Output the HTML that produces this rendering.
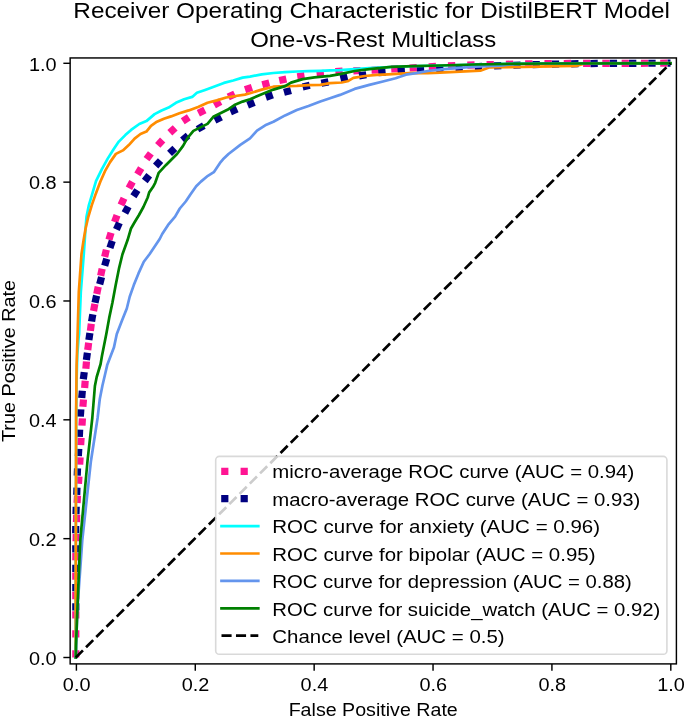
<!DOCTYPE html>
<html lang="en"><head><meta charset="utf-8"><title>ROC curve - DistilBERT One-vs-Rest multiclass</title>
<style>
html,body{margin:0;padding:0;background:#fff;}
body{width:685px;height:717px;overflow:hidden;font-family:"Liberation Sans",sans-serif;}
svg{display:block;}
svg text{font-family:"Liberation Sans",sans-serif;fill:#000;}
.tk{stroke:#000;stroke-width:1.44;}
.cv{fill:none;stroke-width:2.7;stroke-linejoin:round;stroke-linecap:square;}
</style></head><body>
<svg width="685" height="717" viewBox="0 0 685 717" style="will-change:transform;filter:blur(0.45px)">
<rect x="0" y="0" width="685" height="717" fill="#fff"/>
<text x="371.60" y="18.10" font-size="22.28" text-anchor="middle" textLength="596.57" lengthAdjust="spacingAndGlyphs">Receiver Operating Characteristic for DistilBERT Model</text>
<text x="373.20" y="47.30" font-size="22.28" text-anchor="middle" textLength="246.06" lengthAdjust="spacingAndGlyphs">One-vs-Rest Multiclass</text>
<text x="373.20" y="715.80" font-size="18.56" text-anchor="middle" textLength="169.15" lengthAdjust="spacingAndGlyphs">False Positive Rate</text>
<g transform="translate(14.9 361.00) rotate(-90)"><text x="0.00" y="0.00" font-size="18.56" text-anchor="middle" textLength="162.12" lengthAdjust="spacingAndGlyphs">True Positive Rate</text></g>
<defs><clipPath id="ax"><rect x="70.15" y="57.95" width="606.25" height="605.95"/></clipPath></defs>
<g clip-path="url(#ax)">
<defs><clipPath id="dl"><rect x="70.15" y="57.95" width="600.35" height="605.95"/></clipPath></defs>
<g clip-path="url(#dl)">
<g stroke="#ff1493" stroke-width="7.2" fill="none">
<line x1="75.80" y1="657.54" x2="75.80" y2="650.26"/>
<line x1="75.80" y1="637.44" x2="75.80" y2="630.16"/>
<line x1="75.80" y1="618.54" x2="75.80" y2="611.26"/>
<line x1="75.80" y1="599.14" x2="75.80" y2="591.86"/>
<line x1="75.80" y1="579.84" x2="75.80" y2="572.56"/>
<line x1="75.81" y1="560.34" x2="75.89" y2="553.06"/>
<line x1="76.08" y1="541.24" x2="76.23" y2="533.96"/>
<line x1="76.48" y1="522.04" x2="76.70" y2="514.76"/>
<line x1="77.09" y1="502.93" x2="77.49" y2="495.67"/>
<line x1="78.44" y1="483.73" x2="78.94" y2="476.47"/>
<line x1="79.69" y1="464.63" x2="80.11" y2="457.37"/>
<line x1="80.66" y1="445.13" x2="81.09" y2="437.87"/>
<line x1="81.98" y1="425.63" x2="82.42" y2="418.37"/>
<line x1="82.91" y1="406.83" x2="83.46" y2="399.57"/>
<line x1="84.64" y1="388.03" x2="85.21" y2="380.77"/>
<line x1="85.86" y1="368.73" x2="86.48" y2="361.47"/>
<line x1="87.73" y1="350.01" x2="88.67" y2="342.79"/>
<line x1="90.36" y1="330.91" x2="91.30" y2="323.69"/>
<line x1="93.53" y1="310.98" x2="94.89" y2="303.82"/>
<line x1="96.77" y1="293.97" x2="98.23" y2="286.83"/>
<line x1="100.65" y1="275.76" x2="102.15" y2="268.64"/>
<line x1="104.64" y1="256.84" x2="106.36" y2="249.76"/>
<line x1="108.95" y1="239.69" x2="111.05" y2="232.71"/>
<line x1="114.56" y1="222.02" x2="117.04" y2="215.18"/>
<line x1="120.98" y1="204.91" x2="124.02" y2="198.29"/>
<line x1="128.94" y1="188.19" x2="132.46" y2="181.81"/>
<line x1="137.42" y1="174.42" x2="141.18" y2="168.18"/>
<line x1="146.54" y1="159.13" x2="150.86" y2="153.27"/>
<line x1="157.74" y1="145.38" x2="162.66" y2="140.02"/>
<line x1="169.82" y1="132.76" x2="175.18" y2="127.84"/>
<line x1="182.74" y1="121.17" x2="188.86" y2="117.23"/>
<line x1="198.34" y1="113.23" x2="204.86" y2="109.97"/>
<line x1="214.20" y1="105.13" x2="220.60" y2="101.67"/>
<line x1="228.22" y1="97.07" x2="234.78" y2="93.93"/>
<line x1="245.05" y1="89.76" x2="251.95" y2="87.44"/>
<line x1="262.28" y1="84.73" x2="269.32" y2="82.87"/>
<line x1="279.24" y1="80.47" x2="286.36" y2="78.93"/>
<line x1="297.30" y1="76.75" x2="304.50" y2="75.65"/>
<line x1="316.68" y1="74.22" x2="323.92" y2="73.38"/>
<line x1="335.37" y1="71.61" x2="342.63" y2="70.99"/>
<line x1="353.36" y1="70.84" x2="360.64" y2="70.50"/>
<line x1="371.56" y1="70.27" x2="378.84" y2="69.92"/>
<line x1="391.17" y1="69.03" x2="398.43" y2="68.59"/>
<line x1="409.57" y1="68.01" x2="416.83" y2="67.59"/>
<line x1="428.73" y1="66.78" x2="436.01" y2="66.40"/>
<line x1="448.02" y1="65.93" x2="455.30" y2="65.62"/>
<line x1="467.31" y1="65.09" x2="474.59" y2="64.87"/>
<line x1="486.60" y1="64.67" x2="493.88" y2="64.52"/>
<line x1="505.89" y1="64.28" x2="513.17" y2="64.14"/>
<line x1="525.18" y1="63.94" x2="532.46" y2="63.84"/>
<line x1="544.47" y1="63.69" x2="551.75" y2="63.60"/>
<line x1="563.76" y1="63.49" x2="571.04" y2="63.47"/>
<line x1="583.05" y1="63.44" x2="590.33" y2="63.42"/>
<line x1="602.34" y1="63.39" x2="609.62" y2="63.37"/>
<line x1="621.63" y1="63.33" x2="628.91" y2="63.31"/>
<line x1="640.92" y1="63.28" x2="648.20" y2="63.26"/>
<line x1="660.21" y1="63.23" x2="667.49" y2="63.21"/>
</g>
<g stroke="#000080" stroke-width="7.2" fill="none">
<line x1="75.80" y1="610.54" x2="75.80" y2="603.26"/>
<line x1="75.80" y1="591.24" x2="75.80" y2="583.96"/>
<line x1="75.80" y1="571.94" x2="75.80" y2="564.66"/>
<line x1="75.77" y1="552.44" x2="75.75" y2="545.16"/>
<line x1="75.67" y1="533.24" x2="75.74" y2="525.96"/>
<line x1="75.99" y1="514.04" x2="76.20" y2="506.76"/>
<line x1="76.73" y1="494.84" x2="76.98" y2="487.56"/>
<line x1="77.22" y1="475.64" x2="77.53" y2="468.36"/>
<line x1="78.37" y1="456.13" x2="78.77" y2="448.87"/>
<line x1="79.31" y1="436.84" x2="79.67" y2="429.56"/>
<line x1="80.33" y1="416.63" x2="80.82" y2="409.37"/>
<line x1="81.72" y1="398.03" x2="82.34" y2="390.77"/>
<line x1="83.32" y1="379.31" x2="84.23" y2="372.09"/>
<line x1="86.38" y1="359.90" x2="87.40" y2="352.70"/>
<line x1="88.87" y1="340.11" x2="89.88" y2="332.89"/>
<line x1="91.58" y1="321.49" x2="92.82" y2="314.31"/>
<line x1="95.00" y1="302.75" x2="96.60" y2="295.65"/>
<line x1="99.68" y1="284.22" x2="101.56" y2="277.18"/>
<line x1="104.69" y1="265.80" x2="106.71" y2="258.80"/>
<line x1="109.94" y1="247.85" x2="112.26" y2="240.95"/>
<line x1="116.41" y1="229.52" x2="119.39" y2="222.88"/>
<line x1="124.89" y1="213.02" x2="128.31" y2="206.58"/>
<line x1="133.43" y1="196.26" x2="137.37" y2="190.14"/>
<line x1="144.79" y1="181.00" x2="149.21" y2="175.20"/>
<line x1="155.63" y1="165.97" x2="160.57" y2="160.63"/>
<line x1="169.55" y1="153.40" x2="174.85" y2="148.40"/>
<line x1="182.40" y1="140.23" x2="188.00" y2="135.57"/>
<line x1="197.56" y1="129.24" x2="203.84" y2="125.56"/>
<line x1="214.76" y1="120.26" x2="221.24" y2="116.94"/>
<line x1="230.48" y1="111.88" x2="237.12" y2="108.92"/>
<line x1="247.62" y1="105.15" x2="254.38" y2="102.45"/>
<line x1="265.86" y1="97.28" x2="272.74" y2="94.92"/>
<line x1="283.99" y1="92.35" x2="291.01" y2="90.45"/>
<line x1="302.65" y1="86.90" x2="309.75" y2="85.30"/>
<line x1="321.33" y1="83.31" x2="328.47" y2="81.89"/>
<line x1="340.47" y1="78.68" x2="347.53" y2="76.92"/>
<line x1="359.10" y1="75.83" x2="366.30" y2="74.77"/>
<line x1="378.38" y1="72.73" x2="385.62" y2="72.07"/>
<line x1="397.67" y1="71.08" x2="404.93" y2="70.52"/>
<line x1="416.89" y1="69.67" x2="424.15" y2="69.28"/>
<line x1="436.17" y1="68.97" x2="443.45" y2="68.64"/>
<line x1="455.47" y1="67.91" x2="462.73" y2="67.49"/>
<line x1="474.75" y1="66.78" x2="482.03" y2="66.41"/>
<line x1="494.04" y1="65.97" x2="501.32" y2="65.70"/>
<line x1="513.33" y1="65.24" x2="520.61" y2="64.99"/>
<line x1="532.62" y1="64.68" x2="539.90" y2="64.50"/>
<line x1="551.91" y1="64.20" x2="559.19" y2="64.02"/>
<line x1="571.20" y1="63.83" x2="578.48" y2="63.72"/>
<line x1="590.49" y1="63.54" x2="597.77" y2="63.43"/>
<line x1="609.78" y1="63.37" x2="617.06" y2="63.35"/>
<line x1="629.07" y1="63.32" x2="636.35" y2="63.30"/>
<line x1="648.36" y1="63.26" x2="655.64" y2="63.24"/>
<line x1="667.65" y1="63.21" x2="674.93" y2="63.19"/>
</g>
</g>
<polyline class="cv" stroke="#00ffff" points="75.8,657.5 75.8,560.0 76.1,465.0 76.2,414.0 76.6,380.0 77.3,355.0 78.6,338.0 79.1,334.0 80.8,292.2 83.8,254.0 85.5,229.0 86.5,216.8 88.9,205.1 92.4,193.4 96.0,181.2 101.9,169.1 107.7,158.6 113.6,149.2 118.8,141.6 125.3,135.1 131.1,129.9 139.3,124.0 146.4,121.1 154.6,114.1 161.6,110.5 168.6,107.6 175.9,102.8 184.1,99.3 192.2,96.9 196.9,92.8 205.1,89.9 214.5,86.4 223.9,82.9 233.2,80.5 242.6,77.6 250.0,76.6 261.7,74.4 273.4,73.0 285.1,72.1 296.8,71.5 308.5,71.1 320.3,70.8 330.0,70.4 340.0,70.1 369.3,68.1 400.0,66.5 440.0,65.5 500.0,64.0 560.0,63.4 670.5,63.2"/>
<polyline class="cv" stroke="#ff8c00" points="75.8,657.5 75.7,600.0 76.0,465.0 76.1,414.0 76.6,365.0 77.6,334.0 78.8,292.2 81.5,254.0 83.6,240.3 85.6,228.5 88.3,216.8 91.8,205.1 95.9,193.4 100.3,181.8 105.4,170.3 110.1,162.1 115.9,153.9 122.9,150.4 128.8,145.1 134.6,138.6 140.5,134.0 146.4,131.6 151.0,125.8 156.9,121.7 163.9,118.7 171.0,116.4 179.4,113.3 188.7,110.4 198.1,106.9 207.5,102.8 216.8,100.4 226.2,97.5 235.6,96.0 244.9,94.6 250.0,93.3 261.7,89.6 273.4,86.7 285.1,86.1 296.8,85.9 308.5,85.2 320.3,84.9 330.0,83.2 341.7,82.5 347.5,81.3 353.4,77.8 365.0,76.0 376.7,74.9 388.4,74.3 400.0,73.7 413.2,72.9 427.8,73.2 440.0,72.7 480.3,70.7 489.0,67.5 510.0,67.2 538.0,66.6 560.0,66.1 577.0,65.8 585.0,63.4 670.5,63.2"/>
<polyline class="cv" stroke="#6495ed" points="75.8,657.5 77.3,610.0 80.9,560.0 82.3,540.0 90.8,462.0 97.6,418.0 99.8,398.9 102.4,385.7 105.5,372.5 107.2,365.1 113.9,347.6 116.8,334.0 122.1,320.3 126.8,308.5 129.7,296.8 133.8,285.1 138.5,273.4 143.8,261.7 149.5,254.3 159.7,239.0 162.2,234.0 168.1,224.9 175.1,216.7 179.8,208.5 185.7,201.5 190.4,194.5 196.2,186.3 200.9,181.6 207.9,175.8 213.8,172.2 220.0,162.9 223.0,159.3 228.5,154.0 240.3,144.9 250.0,138.4 257.0,130.6 265.2,125.3 273.4,121.8 285.1,115.4 296.8,110.1 308.5,106.0 320.3,101.5 330.0,98.3 340.0,94.9 354.6,88.9 369.3,84.9 383.9,81.2 395.6,78.3 405.9,74.7 416.1,73.2 427.8,71.0 441.7,69.4 453.4,68.3 465.0,67.4 475.0,66.7 492.5,66.0 500.7,65.6 508.0,64.7 520.0,64.0 560.0,63.5 670.5,63.3"/>
<polyline class="cv" stroke="#008000" points="75.8,657.5 76.0,645.0 77.7,602.0 79.4,560.0 80.3,540.0 87.6,460.0 92.3,418.0 94.9,386.0 96.7,377.0 100.6,364.0 101.9,356.3 106.3,334.0 109.2,317.9 112.4,302.7 115.7,285.1 119.2,267.6 122.4,254.5 127.5,240.3 131.0,228.5 134.6,222.3 139.0,215.0 143.4,207.0 147.7,197.5 149.2,192.4 152.8,187.3 155.2,182.8 158.7,172.8 165.8,165.2 174.0,157.0 177.0,154.0 182.9,146.1 187.6,137.9 193.4,130.9 200.4,127.4 207.5,123.9 213.3,116.8 220.4,113.3 227.4,109.8 234.4,105.1 242.6,101.6 250.0,99.2 261.7,94.3 273.4,89.6 285.1,86.1 291.0,82.6 302.7,79.1 314.4,77.3 330.0,75.9 340.0,74.1 354.6,71.0 369.3,69.2 391.2,66.9 413.2,66.1 440.0,65.5 475.0,64.5 510.0,63.9 545.0,63.5 670.5,63.3"/>
<line x1="75.80" y1="657.50" x2="670.50" y2="63.30" stroke="#000" stroke-width="2.7" stroke-dasharray="10.1 4.37"/>
</g>
<rect x="215.70" y="456.40" width="451.20" height="197.90" rx="3.6" ry="3.6" fill="#fff" fill-opacity="0.8" stroke="#d2d2d2" stroke-opacity="0.85" stroke-width="1.6"/>
<line x1="221.20" y1="471.30" x2="258.30" y2="471.30" stroke="#ff1493" stroke-width="7.2" stroke-dasharray="7.2 12.2"/>
<text x="272.30" y="478.00" font-size="18.56" text-anchor="start" textLength="361.92" lengthAdjust="spacingAndGlyphs">micro-average ROC curve (AUC = 0.94)</text>
<line x1="221.20" y1="498.70" x2="258.30" y2="498.70" stroke="#000080" stroke-width="7.2" stroke-dasharray="7.2 12.2"/>
<text x="272.30" y="505.52" font-size="18.56" text-anchor="start" textLength="368.04" lengthAdjust="spacingAndGlyphs">macro-average ROC curve (AUC = 0.93)</text>
<line x1="221.50" y1="526.10" x2="258.30" y2="526.10" stroke="#00ffff" stroke-width="2.7" stroke-linecap="square"/>
<text x="272.30" y="533.04" font-size="18.56" text-anchor="start" textLength="327.79" lengthAdjust="spacingAndGlyphs">ROC curve for anxiety (AUC = 0.96)</text>
<line x1="221.50" y1="553.50" x2="258.30" y2="553.50" stroke="#ff8c00" stroke-width="2.7" stroke-linecap="square"/>
<text x="272.30" y="560.56" font-size="18.56" text-anchor="start" textLength="323.14" lengthAdjust="spacingAndGlyphs">ROC curve for bipolar (AUC = 0.95)</text>
<line x1="221.50" y1="580.90" x2="258.30" y2="580.90" stroke="#6495ed" stroke-width="2.7" stroke-linecap="square"/>
<text x="272.30" y="588.08" font-size="18.56" text-anchor="start" textLength="359.57" lengthAdjust="spacingAndGlyphs">ROC curve for depression (AUC = 0.88)</text>
<line x1="221.50" y1="608.30" x2="258.30" y2="608.30" stroke="#008000" stroke-width="2.7" stroke-linecap="square"/>
<text x="272.30" y="615.60" font-size="18.56" text-anchor="start" textLength="388.11" lengthAdjust="spacingAndGlyphs">ROC curve for suicide_watch (AUC = 0.92)</text>
<line x1="221.50" y1="635.70" x2="258.30" y2="635.70" stroke="#000" stroke-width="2.7" stroke-dasharray="10.1 4.37"/>
<text x="272.30" y="643.12" font-size="18.56" text-anchor="start" textLength="232.35" lengthAdjust="spacingAndGlyphs">Chance level (AUC = 0.5)</text>
<rect x="70.15" y="57.95" width="606.25" height="605.95" fill="none" stroke="#000" stroke-width="1.44"/>
<line class="tk" x1="76.40" y1="663.90" x2="76.40" y2="670.70"/>
<text x="76.70" y="691.20" font-size="18.56" text-anchor="middle" textLength="27.64" lengthAdjust="spacingAndGlyphs">0.0</text>
<line class="tk" x1="63.35" y1="657.50" x2="70.15" y2="657.50"/>
<text x="56.70" y="664.80" font-size="18.56" text-anchor="end" textLength="27.64" lengthAdjust="spacingAndGlyphs">0.0</text>
<line class="tk" x1="195.28" y1="663.90" x2="195.28" y2="670.70"/>
<text x="195.58" y="691.20" font-size="18.56" text-anchor="middle" textLength="27.64" lengthAdjust="spacingAndGlyphs">0.2</text>
<line class="tk" x1="63.35" y1="538.66" x2="70.15" y2="538.66"/>
<text x="56.70" y="545.96" font-size="18.56" text-anchor="end" textLength="27.64" lengthAdjust="spacingAndGlyphs">0.2</text>
<line class="tk" x1="314.16" y1="663.90" x2="314.16" y2="670.70"/>
<text x="314.46" y="691.20" font-size="18.56" text-anchor="middle" textLength="27.64" lengthAdjust="spacingAndGlyphs">0.4</text>
<line class="tk" x1="63.35" y1="419.82" x2="70.15" y2="419.82"/>
<text x="56.70" y="427.12" font-size="18.56" text-anchor="end" textLength="27.64" lengthAdjust="spacingAndGlyphs">0.4</text>
<line class="tk" x1="433.04" y1="663.90" x2="433.04" y2="670.70"/>
<text x="433.34" y="691.20" font-size="18.56" text-anchor="middle" textLength="27.64" lengthAdjust="spacingAndGlyphs">0.6</text>
<line class="tk" x1="63.35" y1="300.98" x2="70.15" y2="300.98"/>
<text x="56.70" y="308.28" font-size="18.56" text-anchor="end" textLength="27.64" lengthAdjust="spacingAndGlyphs">0.6</text>
<line class="tk" x1="551.92" y1="663.90" x2="551.92" y2="670.70"/>
<text x="552.22" y="691.20" font-size="18.56" text-anchor="middle" textLength="27.64" lengthAdjust="spacingAndGlyphs">0.8</text>
<line class="tk" x1="63.35" y1="182.14" x2="70.15" y2="182.14"/>
<text x="56.70" y="189.44" font-size="18.56" text-anchor="end" textLength="27.64" lengthAdjust="spacingAndGlyphs">0.8</text>
<line class="tk" x1="670.80" y1="663.90" x2="670.80" y2="670.70"/>
<text x="671.10" y="691.20" font-size="18.56" text-anchor="middle" textLength="27.64" lengthAdjust="spacingAndGlyphs">1.0</text>
<line class="tk" x1="63.35" y1="63.30" x2="70.15" y2="63.30"/>
<text x="56.70" y="70.60" font-size="18.56" text-anchor="end" textLength="27.64" lengthAdjust="spacingAndGlyphs">1.0</text>
</svg>
</body></html>
